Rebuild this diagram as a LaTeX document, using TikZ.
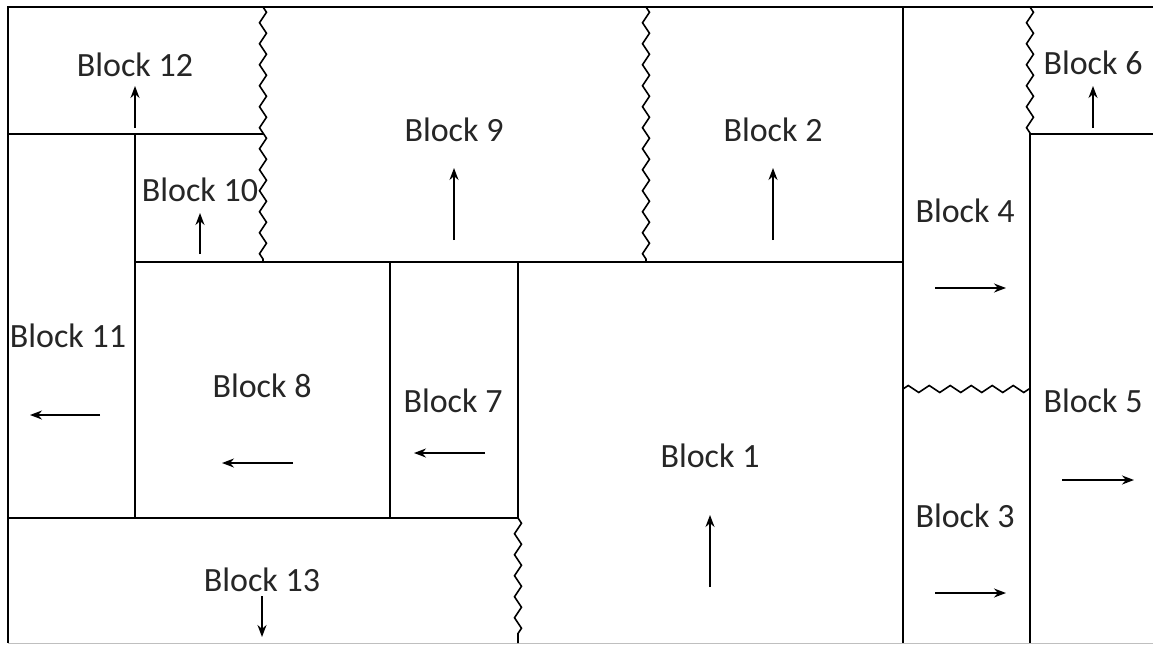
\documentclass[tikz,border=0pt]{standalone}
\usepackage{fontspec}
\setmainfont{Carlito}
\usetikzlibrary{arrows.meta,decorations.pathmorphing}
\begin{document}
\begin{tikzpicture}[x=1pt,y=-1pt,
  wall/.style={line width=2pt,black},
  zz/.style={line width=1.6pt,black,decorate,decoration={zigzag,segment length=21pt,amplitude=3.5pt}},
  dir/.style={line width=1.7pt,-{Stealth[length=12pt,width=9pt]}},
  lbl/.style={font=\fontsize{34}{40}\selectfont, inner sep=0pt, text=black!85}]
\useasboundingbox (0,0) rectangle (1153,645);
% outer frame
\draw[wall] (1153,7) -- (8,7) -- (8,643);
\draw[line width=1pt,black!25] (8,643) -- (1153,643);
% horizontal walls
\draw[wall] (8,134) -- (263,134);
\draw[wall] (135,262) -- (903,262);
\draw[wall] (1030,134) -- (1153,134);
\draw[wall] (8,518) -- (518,518);
% vertical walls
\draw[wall] (135,134) -- (135,518);
\draw[wall] (390,262) -- (390,518);
\draw[wall] (518,262) -- (518,518);
\draw[wall] (903,7) -- (903,643);
\draw[wall] (1030,134) -- (1030,643);
% zigzag joints
\draw[zz] (263,7) -- (263,262);
\draw[zz] (646,7) -- (646,262);
\draw[zz] (1030,7) -- (1030,134);
\draw[zz] (518,518) -- (518,643);
\draw[zz] (903,389) -- (1030,389);
% labels
\node[lbl] (b12) at (135,65) {Block 12};
\node[lbl] (b10) at (200,190) {Block 10};
\node[lbl] (b9) at (454,130) {Block 9};
\node[lbl] (b2) at (773,130) {Block 2};
\node[lbl] (b6) at (1093,63) {Block 6};
\node[lbl] (b4) at (965,211) {Block 4};
\node[lbl] (b11) at (68,336) {Block 11};
\node[lbl] (b8) at (262,386) {Block 8};
\node[lbl] (b7) at (453,401) {Block 7};
\node[lbl] (b1) at (710,456) {Block 1};
\node[lbl] (b3) at (965,516) {Block 3};
\node[lbl] (b5) at (1093,401) {Block 5};
\node[lbl] (b13) at (262,580) {Block 13};
% direction arrows
\draw[dir] (135,128) -- (135,86);
\draw[dir] (200,254) -- (200,213);
\draw[dir] (454,240) -- (454,168);
\draw[dir] (773,240) -- (773,168);
\draw[dir] (1093,128) -- (1093,86);
\draw[dir] (935,288) -- (1006,288);
\draw[dir] (100,415) -- (30,415);
\draw[dir] (293,463) -- (222,463);
\draw[dir] (485,453) -- (414,453);
\draw[dir] (710,587) -- (710,515);
\draw[dir] (935,593) -- (1006,593);
\draw[dir] (1062,480) -- (1134,480);
\draw[dir] (262,596) -- (262,637);
\end{tikzpicture}
\end{document}
